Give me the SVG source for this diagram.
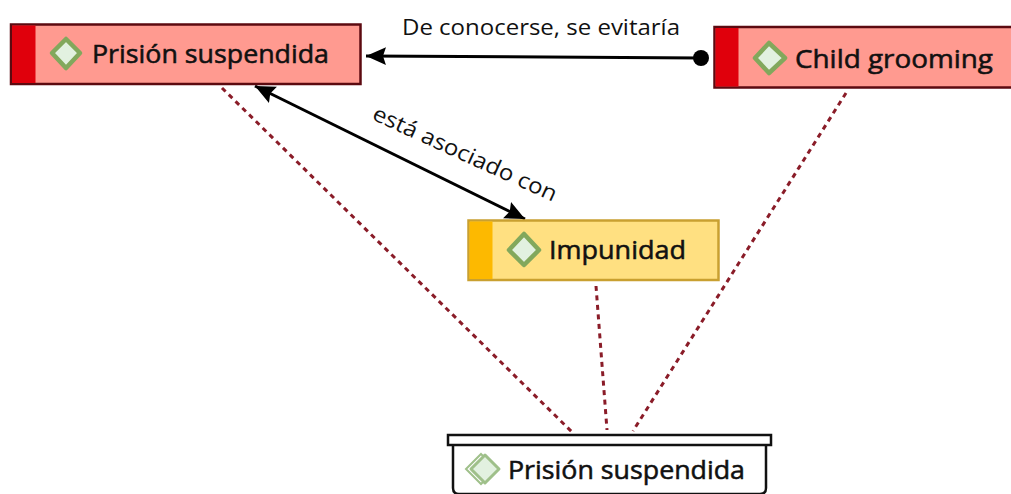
<svg xmlns="http://www.w3.org/2000/svg" width="1011" height="494" viewBox="0 0 1011 494">
<style>
text{font-family:"Open Sans","Noto Sans","Liberation Sans",sans-serif;fill:#111}
.n{font-size:26px;font-weight:400;stroke:#111;stroke-width:.55px}
.l{font-size:22px}
.red{fill:#ff9a90;stroke:#5c0a10;stroke-width:2.5}
.redb{fill:#e0000c}
.yel{fill:#ffe081;stroke:#c9a030;stroke-width:2.5}
.yelb{fill:#fdb900}
.d{fill:#e2f1e0;stroke:#82a85c;stroke-width:4.5;stroke-linejoin:round}
.dash{fill:none;stroke:#8a1c28;stroke-width:3;stroke-dasharray:5 4.5}
.a{fill:none;stroke:#000;stroke-width:3}
</style>
<defs>
<marker id="h" markerUnits="userSpaceOnUse" markerWidth="22" markerHeight="22" refX="20" refY="11" orient="auto-start-reverse"><path d="M0 2L3 11L0 20L20 11Z" fill="#000"/></marker>
</defs>
<g id="connectors">
<path class="dash" d="M222 88L572 432"/>
<path class="dash" d="M846 93L633 431"/>
<path class="dash" d="M596 286L607 430"/>
<path class="a" d="M366 56L700 58" marker-start="url(#h)"/>
<circle cx="701" cy="58" r="8" fill="#000"/>
<path class="a" d="M255 86L525 219" marker-start="url(#h)" marker-end="url(#h)"/>
<text class="l" x="402" y="35" textLength="278" lengthAdjust="spacingAndGlyphs">De conocerse, se evitaría</text>
<text class="l" transform="translate(371 119) rotate(24.5)" textLength="200" lengthAdjust="spacingAndGlyphs">está asociado con</text>
</g>
<g id="node-prision">
<rect class="red" x="11" y="24.500" width="349.500" height="59.500"/>
<rect class="redb" x="12" y="25.500" width="23.500" height="57.500"/>
<path class="d" d="M66 39L80 53L66 68L52 53Z"/>
<text class="n" x="92" y="63" textLength="237" lengthAdjust="spacingAndGlyphs">Prisión suspendida</text>
</g>
<g id="node-child">
<rect class="red" x="714.500" y="27" width="310" height="60.500"/>
<rect class="redb" x="715.500" y="28" width="23" height="58.500"/>
<path class="d" d="M769 43L785 58L769 73L755 58Z"/>
<text class="n" x="795" y="68" textLength="198" lengthAdjust="spacingAndGlyphs">Child grooming</text>
</g>
<g id="node-impunidad">
<rect class="yel" x="468.500" y="220.500" width="250" height="59.500"/>
<rect class="yelb" x="469.500" y="221.500" width="23" height="57.500"/>
<path class="d" d="M524 234L539 250L524 265L509 250Z"/>
<text class="n" x="549" y="259" textLength="137" lengthAdjust="spacingAndGlyphs">Impunidad</text>
</g>
<g id="node-grupo">
<path d="M453 445V488Q453 494 459 494H760Q766 494 766 488V445" fill="#fff" stroke="#111" stroke-width="2.5"/>
<rect x="448" y="435" width="323" height="10" fill="#fff" stroke="#111" stroke-width="2.5"/>
<path d="M481 454L496 469L481 484L466 469Z" fill="none" stroke="#9fc08a" stroke-width="2"/>
<path class="d" style="stroke-width:3;stroke:#9fc08a" d="M485 455L499 469L485 483L471 469Z"/>
<text class="n" x="508" y="479" textLength="237" lengthAdjust="spacingAndGlyphs">Prisión suspendida</text>
</g>
</svg>
